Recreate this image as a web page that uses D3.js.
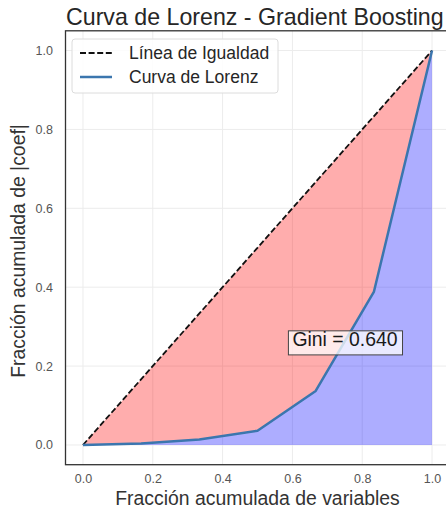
<!DOCTYPE html>
<html>
<head>
<meta charset="utf-8">
<script src="https://cdn.jsdelivr.net/npm/d3@7"></script>
<style>
  html, body { margin: 0; padding: 0; background: #ffffff; }
  svg { display: block; }
  text { font-family: "Liberation Sans", Arial, sans-serif; }
</style>
</head>
<body>
<svg id="chart" width="446" height="512"></svg>
<script>
// Cumulative fraction of variables (x) and of |coef| (y), sorted ascending
const varFrac  = [0.0, 0.1667, 0.3333, 0.5, 0.6667, 0.8333, 1.0];
const coefFrac = [0.0, 0.004, 0.014, 0.036, 0.137, 0.388, 1.0];
const equalityLine = [0.0, 1.0];
const giniValue = 0.640;
const tickValues = [0.0, 0.2, 0.4, 0.6, 0.8, 1.0];
const legendLabels = ["Línea de Igualdad", "Curva de Lorenz"];
const titleText = "Curva de Lorenz - Gradient Boosting";
const xLabelText = "Fracción acumulada de variables";
const yLabelText = "Fracción acumulada de |coef|";

const svg = d3.select("#chart");

const x = d3.scaleLinear().domain([-0.05, 1.05]).range([65.5, 449.5]);
const y = d3.scaleLinear().domain([-0.05, 1.05]).range([464.7, 30.8]);
const [x0, x1] = x.range();
const [yb, yt] = y.range();

const pts = varFrac.map((v, i) => ({ x: v, y: coefFrac[i] }));

// clip to the axes area
svg.append("defs").append("clipPath").attr("id", "plotClip")
  .append("rect").attr("x", x0).attr("y", yt).attr("width", x1 - x0).attr("height", yb - yt);

const plot = svg.append("g").attr("clip-path", "url(#plotClip)");

// faint grid
plot.append("g").selectAll("line.gx").data(tickValues).join("line")
  .attr("x1", d => x(d)).attr("x2", d => x(d)).attr("y1", yt).attr("y2", yb)
  .attr("stroke", "#ececec").attr("stroke-width", 1);
plot.append("g").selectAll("line.gy").data(tickValues).join("line")
  .attr("x1", x0).attr("x2", x1).attr("y1", d => y(d)).attr("y2", d => y(d))
  .attr("stroke", "#ececec").attr("stroke-width", 1);

// area between equality line and Lorenz curve
const inequality = d3.area().x(d => x(d.x)).y0(d => y(d.x)).y1(d => y(d.y));
plot.append("path").datum(pts).attr("d", inequality)
  .attr("fill", "red").attr("fill-opacity", 0.32);

// area under the Lorenz curve
const under = d3.area().x(d => x(d.x)).y0(y(0)).y1(d => y(d.y));
plot.append("path").datum(pts).attr("d", under)
  .attr("fill", "blue").attr("fill-opacity", 0.32);

// equality line
const line = d3.line().x(d => x(d.x)).y(d => y(d.y));
plot.append("path").datum(equalityLine.map(v => ({ x: v, y: v }))).attr("d", line)
  .attr("fill", "none").attr("stroke", "#111").attr("stroke-width", 1.8)
  .attr("stroke-dasharray", "6,2.6");

// Lorenz curve
plot.append("path").datum(pts).attr("d", line)
  .attr("fill", "none").attr("stroke", "#3b76ae").attr("stroke-width", 2.5)
  .attr("stroke-linejoin", "round");

// axes frame
svg.append("rect").attr("x", x0).attr("y", yt).attr("width", x1 - x0).attr("height", yb - yt)
  .attr("fill", "none").attr("stroke", "#333").attr("stroke-width", 1.3);

// tick labels
const fmt = d3.format(".1f");
const xAxis = svg.append("g").attr("transform", `translate(0,${yb})`)
  .call(d3.axisBottom(x).tickValues(tickValues).tickFormat(fmt).tickSize(0).tickPadding(9.5));
const yAxis = svg.append("g").attr("transform", `translate(${x0},0)`)
  .call(d3.axisLeft(y).tickValues(tickValues).tickFormat(fmt).tickSize(0).tickPadding(12.5));
[xAxis, yAxis].forEach(a => {
  a.select(".domain").remove();
  a.selectAll("text").attr("fill", "#555").style("font-size", "12.5px")
    .style("font-family", "'Liberation Sans', Arial, sans-serif");
});

// title and axis labels
svg.append("text").attr("x", 66).attr("y", 25).attr("text-anchor", "start")
  .attr("fill", "#262626").style("font-size", "23.2px").text(titleText);
svg.append("text").attr("x", (x0 + x1) / 2).attr("y", 504.5).attr("text-anchor", "middle")
  .attr("fill", "#333").style("font-size", "19.4px").text(xLabelText);
svg.append("text").attr("transform", "translate(25,251) rotate(-90)").attr("text-anchor", "middle")
  .attr("fill", "#333").style("font-size", "19.4px").text(yLabelText);

// legend
const leg = svg.append("g");
leg.append("rect").attr("x", 72).attr("y", 39).attr("width", 206).attr("height", 54)
  .attr("rx", 3).attr("fill", "#fff").attr("fill-opacity", 0.85)
  .attr("stroke", "#dcdcdc").attr("stroke-width", 1);
const rows = [53, 77];
leg.append("line").attr("x1", 80).attr("x2", 112).attr("y1", rows[0]).attr("y2", rows[0])
  .attr("stroke", "#111").attr("stroke-width", 1.8).attr("stroke-dasharray", "6,2.6");
leg.append("line").attr("x1", 80).attr("x2", 112).attr("y1", rows[1]).attr("y2", rows[1])
  .attr("stroke", "#3b76ae").attr("stroke-width", 2.5);
leg.selectAll("text.lg").data(legendLabels).join("text")
  .attr("x", 129).attr("y", (d, i) => rows[i]).attr("dy", "0.35em")
  .attr("fill", "#262626").style("font-size", "17.5px").text(d => d);

// Gini annotation with translucent box
const gx = x(0.6), gy = y(0.25), gfs = 19.4;
const gBox = svg.append("rect");
const gText = svg.append("text").attr("x", gx).attr("y", gy)
  .attr("fill", "#1a1a1a").style("font-size", gfs + "px")
  .text("Gini = " + giniValue.toFixed(3));
const tw = gText.node().getComputedTextLength();
gBox.attr("x", gx - 4).attr("y", gy - 0.8 * gfs).attr("width", tw + 9).attr("height", 1.24 * gfs)
  .attr("fill", "#fff").attr("fill-opacity", 0.75)
  .attr("stroke", "#444").attr("stroke-width", 1);
</script>
</body>
</html>
